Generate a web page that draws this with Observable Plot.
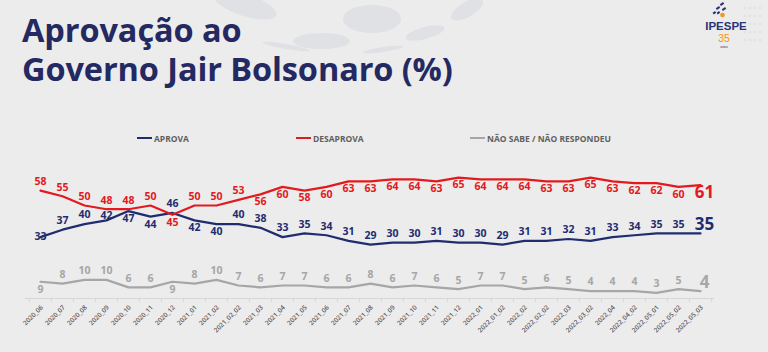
<!DOCTYPE html>
<html><head><meta charset="utf-8">
<script src="https://cdn.jsdelivr.net/npm/d3@7"></script>
<script src="https://cdn.jsdelivr.net/npm/@observablehq/plot@0.6"></script>
<style>
html,body{margin:0;padding:0}
body{background:#ececec;width:768px;height:352px;overflow:hidden;position:relative;font-family:"Open Sans",sans-serif}
.blob{position:absolute;background:#dfe1e4;border-radius:50%}
.tl{position:absolute;left:22px;font-weight:700;font-size:32.5px;line-height:32px;color:#242962;letter-spacing:-0.1px;white-space:nowrap}
.leg{position:absolute;top:132px;height:12px;display:flex;align-items:center;font-family:"Open Sans",sans-serif;font-weight:700;font-size:8.5px;color:#5f5f5f;white-space:nowrap}
.leg span.sw{display:inline-block;width:15px;height:2px;margin-right:2px}
#chart{position:absolute;left:0;top:150px}
#logo{position:absolute;left:700px;top:0;width:68px;height:55px}
</style></head>
<body>
<div class="blob" style="left:212px;top:-6px;width:66px;height:22px;transform:rotate(18deg)"></div>
<div class="blob" style="left:343px;top:5px;width:58px;height:28px"></div>
<div class="blob" style="left:293px;top:33px;width:57px;height:16px"></div>
<div class="blob" style="left:405px;top:27px;width:40px;height:12px;transform:rotate(-15deg)"></div>
<div class="blob" style="left:449px;top:2px;width:36px;height:15px;transform:rotate(-30deg)"></div>
<div class="blob" style="left:262px;top:44px;width:48px;height:5px;transform:rotate(10deg)"></div>
<div class="blob" style="left:363px;top:47px;width:40px;height:5px;transform:rotate(-8deg)"></div>
<div class="tl" style="top:14px">Aprovação ao</div>
<div class="tl" style="top:53px">Governo Jair Bolsonaro (%)</div>
<div id="logo"></div>
<div id="legend"></div>
<div id="chart"></div>
<script>
const categories = ["2020_06","2020_07","2020_08","2020_09","2020_10","2020_11","2020_12","2021_01","2021_02","2021_02_02","2021_03","2021_04","2021_05","2021_06","2021_07","2021_08","2021_09","2021_10","2021_11","2021_12","2022_01","2022_01_02","2022_02","2022_02_02","2022_03","2022_03_02","2022_04","2022_04_02","2022_05_01","2022_05_02","2022_05_03"];
const aprova    = [33,37,40,42,47,44,46,42,40,40,38,33,35,34,31,29,30,30,31,30,30,29,31,31,32,31,33,34,35,35,35];
const desaprova = [58,55,50,48,48,50,45,50,50,53,56,60,58,60,63,63,64,64,63,65,64,64,64,63,63,65,63,62,62,60,61];
const naoSabe   = [9,8,10,10,6,6,9,8,10,7,6,7,7,6,6,8,6,7,6,5,7,7,5,6,5,4,4,4,3,5,4];
const seriesNames = ["APROVA","DESAPROVA","NÃO SABE / NÃO RESPONDEU"];
const seriesColors = ["#1f2c6f","#e2191e","#a6a6a6"];
// label side relative to the line: a = above, n = just above, b = below, o = on
const sideAprova    = "oaanbbabbaaaaaaaaaaaaaaaaaaaaaa".split("");
const sideDesaprova = "aaaaaabaaabbbbbbbbbbbbbbbbbbbbb".split("");
const sideNaoSabe   = "baaaaabaaaaaaaaaaaaaaaaaaaaaaaa".split("");

const valuesList = [aprova, desaprova, naoSabe];
const sidesList = [sideAprova, sideDesaprova, sideNaoSabe];
const long = [];
seriesNames.forEach((s, k) => {
  categories.forEach((c, i) => {
    long.push({series: s, cat: c, value: valuesList[k][i], side: sidesList[k][i], last: i === categories.length - 1});
  });
});

// legend
const legend = document.getElementById("legend");
const legX = [137, 296, 470];
seriesNames.forEach((s, k) => {
  const d = document.createElement("div");
  d.className = "leg";
  d.style.left = legX[k] + "px";
  d.innerHTML = `<span class="sw" style="background:${seriesColors[k]}"></span>${s}`;
  legend.appendChild(d);
});

// logo
document.getElementById("logo").innerHTML = `
<svg width="68" height="55" xmlns="http://www.w3.org/2000/svg">
  <g fill="#e3e3e3">${d3.range(0,5).map(r=>d3.range(0,4).map(c=>`<circle cx="${45+c*5}" cy="${8+r*8}" r="1.6"/>`).join("")).join("")}</g>
  <g fill="#2a3475"><rect x="20" y="3" width="4" height="2" transform="rotate(-35 22 4)"/><rect x="16" y="7" width="4" height="2" transform="rotate(-35 18 8)"/><rect x="22" y="8" width="4" height="2" transform="rotate(-35 24 9)"/><rect x="13" y="12" width="3" height="2" transform="rotate(-35 14 13)"/><rect x="17" y="12" width="3" height="2" transform="rotate(-35 18 13)"/></g>
  <circle cx="22.5" cy="15" r="2.3" fill="#f7941d"/>
  <text x="26" y="30" text-anchor="middle" font-family="Liberation Sans Narrow, Liberation Sans, sans-serif" font-weight="700" font-size="11.5" fill="#2a3475">IPESPE</text>
  <text x="24" y="42" text-anchor="middle" font-family="Liberation Sans Narrow, Liberation Sans, sans-serif" font-size="10.5" fill="#f7941d">35</text>
  <text x="24" y="48" text-anchor="middle" font-family="Liberation Sans, sans-serif" font-size="3.5" fill="#2a3475">anos</text>
</svg>`;

const x0 = 25, x1 = 714;
const step = (x1 - x0) / categories.length;
const yBase = 148, pxPerUnit = 1.86;
const fontLabels = "Open Sans";

const labelMarks = [];
for (const [side, dy] of [["a", -9], ["n", -5], ["b", 7.5], ["o", 0]]) {
  labelMarks.push(Plot.text(long, {filter: d => d.side === side && !d.last, x: "cat", y: "value", text: d => String(d.value), fill: "series", dy, fontSize: 10.5, fontWeight: 700, fontFamily: fontLabels}));
  labelMarks.push(Plot.text(long, {filter: d => d.side === side && d.last, x: "cat", y: "value", text: d => String(d.value), fill: "series", dy: dy * 0.95, dx: 4, fontSize: 17, fontWeight: 700, fontFamily: fontLabels}));
}

const chart = Plot.plot({
  width: 768,
  height: 202,
  marginLeft: x0,
  marginRight: 768 - x1,
  marginTop: 10,
  marginBottom: 202 - yBase,
  style: {background: "transparent", overflow: "visible"},
  x: {type: "point", domain: categories, range: [x0, x1], padding: 0.5, axis: null},
  y: {domain: [0, 70], range: [yBase, yBase - 70 * pxPerUnit], axis: null},
  color: {domain: seriesNames, range: seriesColors},
  marks: [
    Plot.ruleY([0], {stroke: "#d6d6d6", strokeWidth: 1}),
    Plot.ruleX(categories, {x: d => d, y1: 0, y2: -2.2, dx: -step / 2, stroke: "#d6d6d6"}),
    Plot.ruleX([categories[categories.length - 1]], {x: d => d, y1: 0, y2: -2.2, dx: step / 2, stroke: "#d6d6d6"}),
    Plot.text(categories, {x: d => d, y: 0, text: d => d, rotate: -45, textAnchor: "end", dx: 1.5, dy: 8, fontSize: 6.5, fontWeight: 600, fill: "#5a5a5a", fontFamily: fontLabels}),
    Plot.line(long, {x: "cat", y: "value", z: "series", stroke: "series", strokeWidth: 2.2}),
    ...labelMarks
  ]
});
document.getElementById("chart").appendChild(chart);
</script>
</body></html>
